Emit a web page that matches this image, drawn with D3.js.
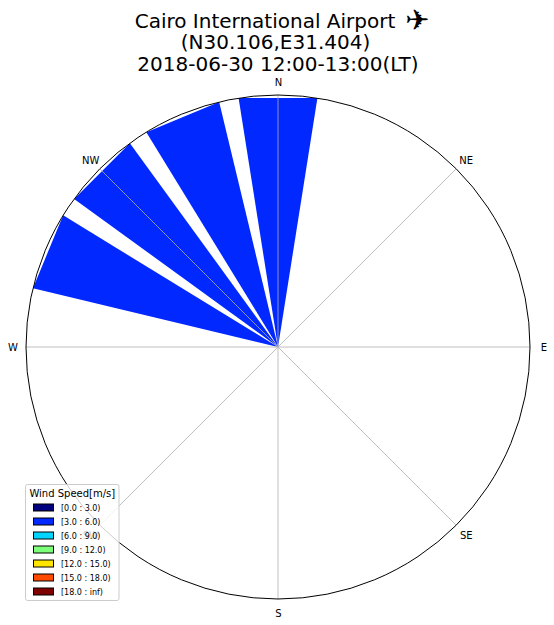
<!DOCTYPE html>
<html>
<head>
<meta charset="utf-8">
<script src="https://cdn.jsdelivr.net/npm/d3@7"></script>
<style>
  html, body { margin: 0; padding: 0; background: #fff; }
  svg { display: block; }
  text { font-family: "DejaVu Sans", sans-serif; fill: #000; }
</style>
</head>
<body>
<svg id="chart" width="554" height="625"></svg>
<script>
// wind rose data, one hour of observations
const titleLines = ["Cairo International Airport", "(N30.106,E31.404)", "2018-06-30 12:00-13:00(LT)"];
const titleIcon = "✈";
const compassLabels = ["N", "NE", "E", "SE", "S", "SW", "W", "NW"];
const compassAngles = [0, 45, 90, 135, 180, 225, 270, 315];
const barDirections = [0, 337.5, 315, 292.5];
const barFrequencies = [25, 25, 25, 25];
const barSpeedBins = [1, 1, 1, 1];
const barWidthDeg = 18;
const speedBins = ["[0.0 : 3.0)", "[3.0 : 6.0)", "[6.0 : 9.0)", "[9.0 : 12.0)", "[12.0 : 15.0)", "[15.0 : 18.0)", "[18.0 : inf)"];
const speedColors = ["#00007f", "#0028ff", "#00d4ff", "#7cff79", "#ffe600", "#ff4a00", "#7f0000"];

const cx = 278, cy = 347, radius = 252;
const svg = d3.select("#chart");

const angle = d3.scaleLinear().domain([0, 360]).range([0, 2 * Math.PI]);
const r = d3.scaleLinear().domain([0, 25]).range([0, radius]);

// title
svg.append("g").selectAll("text")
  .data(titleLines)
  .join("text")
  .attr("x", (d, i) => i == 0 ? 265 : i == 1 ? 275.5 : 278)
  .attr("y", (d, i) => 27.5 + i * 21.6)
  .attr("text-anchor", "middle")
  .attr("font-size", 20)
  .text(d => d);

svg.append("text")
  .attr("x", 417.5)
  .attr("y", 30)
  .attr("text-anchor", "middle")
  .attr("font-size", 29)
  .text(titleIcon);

const plot = svg.append("g").attr("transform", `translate(${cx},${cy})`);

// straight-topped wedges, same as unsampled polar rectangles
const wedge = d3.lineRadial()
  .angle(d => angle(d[0]))
  .radius(d => r(d[1]));

plot.selectAll("path.bar")
  .data(barDirections)
  .join("path")
  .attr("class", "bar")
  .attr("fill", (d, i) => speedColors[barSpeedBins[i]])
  .attr("d", (d, i) => wedge([
    [d, 0],
    [d - barWidthDeg / 2, barFrequencies[i]],
    [d + barWidthDeg / 2, barFrequencies[i]]
  ]) + "Z");

// spokes
plot.selectAll("path.spoke")
  .data(compassAngles)
  .join("path")
  .attr("class", "spoke")
  .attr("fill", "none")
  .attr("stroke", "#b0b0b0")
  .attr("stroke-width", 0.8)
  .attr("d", d => wedge([[d, 0], [d, 25]]));

plot.append("circle")
  .attr("r", r(25))
  .attr("fill", "none")
  .attr("stroke", "#000")
  .attr("stroke-width", 1);

// compass labels
const labelRadius = 265.5;
plot.selectAll("text.compass")
  .data(compassLabels)
  .join("text")
  .attr("class", "compass")
  .attr("x", (d, i) => labelRadius * Math.sin(angle(compassAngles[i])) + 0.5)
  .attr("y", (d, i) => -labelRadius * Math.cos(angle(compassAngles[i])) + 0.8)
  .attr("text-anchor", "middle")
  .attr("dominant-baseline", "central")
  .attr("font-size", 10)
  .text(d => d);

// legend
const legend = svg.append("g").attr("transform", "translate(25.5,484.5)");
legend.append("rect")
  .attr("width", 93.5)
  .attr("height", 116)
  .attr("rx", 2)
  .attr("fill", "#fff")
  .attr("fill-opacity", 0.8)
  .attr("stroke", "#ccc")
  .attr("stroke-width", 1);
legend.append("text")
  .attr("x", 46.8)
  .attr("y", 12.5)
  .attr("text-anchor", "middle")
  .attr("font-size", 10)
  .text("Wind Speed[m/s]");

const legendY = d3.scalePoint().domain(speedBins).range([23, 107]);
const rows = legend.selectAll("g.row")
  .data(speedBins)
  .join("g")
  .attr("class", "row")
  .attr("transform", d => `translate(0,${legendY(d)})`);
rows.append("rect")
  .attr("x", 8)
  .attr("y", -3.5)
  .attr("width", 20)
  .attr("height", 7)
  .attr("fill", (d, i) => speedColors[i])
  .attr("stroke", "#000")
  .attr("stroke-width", 1);
rows.append("text")
  .attr("x", 35.5)
  .attr("y", 3)
  .attr("font-size", 8)
  .text(d => d);
</script>
</body>
</html>
